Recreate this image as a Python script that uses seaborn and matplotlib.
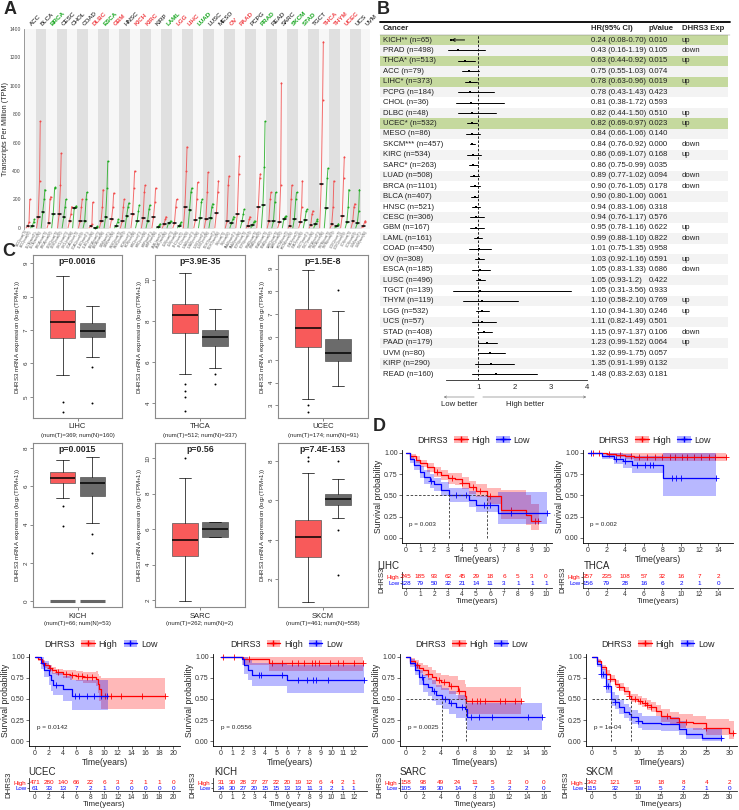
import numpy as np
import matplotlib
matplotlib.use("Agg")
import matplotlib.pyplot as plt
from matplotlib.patches import Rectangle, Patch
from matplotlib.lines import Line2D
import seaborn as sns

# --- Setup Plot Style ---
sns.set_style("white")
plt.rcParams['font.family'] = ['Liberation Sans', 'DejaVu Sans']
plt.rcParams['mathtext.default'] = 'regular'
plt.rcParams['axes.linewidth'] = 0.6

W, H = 739, 810
RED, BLUE = '#ff0000', '#0000ff'

# ---------------- Panel A data (TPM per cancer, tumour / normal) ----------------
A_CANCERS = ["ACC", "BLCA", "BRCA", "CESC", "CHOL", "COAD", "DLBC", "ESCA", "GBM", "HNSC", "KICH",
             "KIRC", "KIRP", "LAML", "LGG", "LIHC", "LUAD", "LUSC", "MESO", "OV", "PAAD", "PCPG",
             "PRAD", "READ", "SARC", "SKCM", "STAD", "TGCT", "THCA", "THYM", "UCEC", "UCS", "UVM"]
A_STATE = ["ns", "ns", "down", "ns", "ns", "ns", "up", "down", "up", "ns", "up",
           "up", "ns", "down", "up", "up", "down", "ns", "ns", "up", "up", "ns",
           "down", "ns", "ns", "down", "down", "ns", "up", "up", "up", "ns", "ns"]
A_T_MED = [12, 75, 35, 95, 50, 50, 10, 50, 60, 45, 95, 70, 75, 30, 35, 150, 55, 65, 105, 45, 100, 15,
           145, 45, 40, 15, 40, 20, 310, 25, 85, 45, 10]
A_T_UP = [40, 330, 200, 300, 100, 150, 30, 150, 150, 150, 280, 250, 180, 60, 150, 400, 200, 250, 250, 300,
          380, 60, 350, 200, 300, 200, 150, 100, 900, 150, 350, 150, 40]
A_T_MAX = [200, 750, 220, 525, 150, 200, 180, 270, 245, 200, 400, 300, 280, 80, 200, 570, 320, 390, 330,
           365, 505, 80, 380, 250, 1020, 300, 330, 120, 1310, 330, 500, 170, 50]
A_N_MED = [15, 110, 100, 75, 140, 50, 2, 80, 15, 85, 45, 50, 5, 35, 15, 125, 70, 70, np.nan, 35, 45, 20,
           160, 45, 65, 65, 55, 30, 140, 10, 40, 35, np.nan]
A_N_UP = [40, 200, 280, 150, 150, 200, 5, 280, 40, 150, 120, 130, 20, 40, 30, 250, 180, 150, np.nan, 60,
          100, 40, 430, 180, 80, 200, 120, 50, 350, 20, 150, 120, np.nan]
A_N_MAX = [60, 270, 285, 200, 155, 250, 10, 470, 60, 175, 160, 160, 30, 50, 40, 280, 200, 170, np.nan, 80,
           130, 50, 750, 250, 85, 250, 130, 60, 420, 30, 270, 270, np.nan]

# ---------------- Panel B data (Cox regression) ----------------
B_CANCERS = ["KICH", "PRAD", "THCA", "ACC", "LIHC", "PCPG", "CHOL", "DLBC", "UCEC", "MESO", "SKCM",
             "KIRC", "SARC", "LUAD", "BRCA", "BLCA", "HNSC", "CESC", "GBM", "LAML", "COAD", "OV",
             "ESCA", "LUSC", "TGCT", "THYM", "LGG", "UCS", "STAD", "PAAD", "UVM", "KIRP", "READ"]
B_STARS = ["**", "", "*", "", "*", "", "", "", "*", "", "***", "", "*", "", "", "", "", "", "", "", "",
           "", "", "", "", "", "", "", "", "", "", "", ""]
B_N = [65, 498, 513, 79, 373, 184, 36, 48, 532, 86, 457, 534, 263, 508, 1101, 407, 521, 306, 167, 161,
       450, 308, 185, 496, 139, 119, 532, 57, 408, 179, 80, 290, 160]
B_HR = ["0.24", "0.43", "0.63", "0.75", "0.78", "0.78", "0.81", "0.82", "0.82", "0.84", "0.84", "0.86",
        "0.86", "0.89", "0.90", "0.90", "0.94", "0.94", "0.95", "0.99", "1.01", "1.03", "1.05", "1.05",
        "1.05", "1.10", "1.10", "1.11", "1.15", "1.23", "1.32", "1.35", "1.48"]
B_LO = ["0.08", "0.16", "0.44", "0.55", "0.63", "0.43", "0.38", "0.44", "0.69", "0.66", "0.76", "0.69",
        "0.75", "0.77", "0.76", "0.80", "0.83", "0.76", "0.78", "0.88", "0.75", "0.92", "0.83", "0.93",
        "0.31", "0.58", "0.94", "0.82", "0.97", "0.99", "0.99", "0.91", "0.83"]
B_HI = ["0.70", "1.19", "0.92", "1.03", "0.96", "1.43", "1.72", "1.50", "0.97", "1.06", "0.92", "1.07",
        "0.99", "1.02", "1.05", "1.00", "1.06", "1.17", "1.16", "1.10", "1.35", "1.16", "1.33", "1.2",
        "3.56", "2.10", "1.30", "1.49", "1.37", "1.52", "1.75", "1.99", "2.63"]
B_P = ["0.010", "0.105", "0.015", "0.074", "0.019", "0.423", "0.593", "0.510", "0.023", "0.140", "0.000",
       "0.168", "0.035", "0.094", "0.178", "0.061", "0.318", "0.576", "0.622", "0.822", "0.958", "0.591",
       "0.686", "0.422", "0.933", "0.769", "0.246", "0.501", "0.106", "0.064", "0.057", "0.132", "0.181"]
B_EXP = ["up", "down", "up", "", "up", "", "", "up", "up", "", "down", "up", "", "down", "down", "", "",
         "", "up", "down", "", "up", "down", "", "", "up", "up", "", "down", "up", "", "", ""]

# ---------------- Panel C data (box summaries, log2(TPM+1)) ----------------
C_NAMES = ["LIHC", "THCA", "UCEC", "KICH", "SARC", "SKCM"]
C_PVALS = ["p=0.0016", "p=3.9E-35", "p=1.5E-8", "p=0.0015", "p=0.56", "p=7.4E-153"]
C_NUM_T = [369, 512, 174, 66, 262, 461]
C_NUM_N = [160, 337, 91, 53, 2, 558]
# whisker low, q1, median, q3, whisker high
C_TUMOR = [[5.65, 6.75, 7.25, 7.6, 8.6], [5.42, 7.4, 8.27, 8.8, 10.34], [3.3, 5.57, 6.38, 7.22, 8.96],
           [5.4, 6.16, 6.45, 6.77, 7.38], [1.96, 4.51, 5.39, 6.35, 8.9], [0.83, 3.15, 4.17, 5.0, 7.42]]
C_NORMAL = [[6.2, 6.8, 6.97, 7.22, 7.72], [5.7, 6.76, 7.2, 7.55, 8.56], [3.85, 4.93, 5.28, 5.91, 7.16],
            [4.1, 5.5, 6.16, 6.5, 7.52], [5.55, 5.55, 6.02, 6.4, 6.4], [5.13, 5.78, 6.07, 6.32, 7.07]]
C_TUMOR_OUT = [[4.85, 4.55], [4.9, 4.6, 4.3, 3.6], [3.0, 2.7], [4.95, 3.95], [10.0], [8.0, 8.2]]
C_NORMAL_OUT = [[4.82, 5.9], [5.4, 4.9], [8.05], [3.5, 2.5], [], [4.5, 2.2, 8.0]]
C_ZERO_BAR = ["KICH"]
C_YTICKS = [[5, 6, 7, 8, 9], [4, 6, 8, 10], [3, 4, 5, 6, 7, 8, 9], [0, 2, 4, 6, 8], [2, 4, 6, 8, 10], [2, 4, 6, 8]]

# ---------------- Panel D data (Kaplan-Meier) ----------------
lihc_high_t = [0, 0.3, 0.7, 1.0, 1.5, 2.0, 2.5, 3.0, 3.5, 4.0, 4.5, 5.0, 5.8, 6.8, 8.6, 8.9, 9.5]
lihc_high_s = [1.0, 0.96, 0.92, 0.88, 0.83, 0.78, 0.74, 0.71, 0.69, 0.65, 0.60, 0.55, 0.49, 0.33, 0.27, 0.20, 0.20]
lihc_high_lo = [1.0, 0.93, 0.88, 0.84, 0.78, 0.72, 0.68, 0.64, 0.62, 0.58, 0.52, 0.48, 0.40, 0.22, 0.15, 0.09, 0.09]
lihc_high_up = [1.0, 0.99, 0.96, 0.92, 0.88, 0.83, 0.80, 0.77, 0.76, 0.72, 0.67, 0.63, 0.59, 0.57, 0.50, 0.40, 0.40]
lihc_high_cens = [2.2, 3.3, 4.0, 4.8, 5.3, 6.0, 7.5, 9.2, 9.4]
lihc_low_t = [0, 0.3, 0.6, 1.0, 1.3, 1.7, 2.0, 2.5, 3.1, 4.5, 5.0, 6.6, 10.1]
lihc_low_s = [1.0, 0.93, 0.86, 0.78, 0.72, 0.67, 0.63, 0.57, 0.50, 0.45, 0.39, 0.29, 0.29]
lihc_low_lo = [1.0, 0.88, 0.80, 0.71, 0.64, 0.59, 0.55, 0.49, 0.42, 0.37, 0.30, 0.16, 0.16]
lihc_low_up = [1.0, 0.97, 0.92, 0.85, 0.80, 0.75, 0.71, 0.66, 0.59, 0.55, 0.49, 0.54, 0.54]
lihc_low_cens = [1.8, 3.6, 4.3, 5.6, 6.0, 7.5, 10.1]

thca_high_t = [0, 1, 2, 3, 4, 5, 14.8]
thca_high_s = [1.0, 1.0, 0.99, 0.98, 0.97, 0.95, 0.95]
thca_high_lo = [1.0, 0.99, 0.97, 0.95, 0.93, 0.90, 0.90]
thca_high_up = [1.0, 1.0, 1.0, 1.0, 1.0, 1.0, 1.0]
thca_high_cens = [0.5, 1.2, 2.3, 3.4, 4.6, 5.5, 6.4, 7.2, 8.0, 8.8, 9.4, 10.1, 10.6, 11.4, 12.2, 13.0, 13.7, 14.8]
thca_low_t = [0, 1.5, 2.8, 3.8, 4.7, 8.1, 13.8]
thca_low_s = [1.0, 0.97, 0.93, 0.90, 0.86, 0.71, 0.71]
thca_low_lo = [1.0, 0.93, 0.87, 0.82, 0.76, 0.49, 0.49]
thca_low_up = [1.0, 1.0, 1.0, 0.99, 0.97, 1.0, 1.0]
thca_low_cens = [0.3, 3.0, 4.0, 5.3, 6.1, 6.7, 7.0, 9.0, 9.5, 10.0, 13.8]

ucec_high_t = [0, 0.5, 1.0, 1.5, 2.0, 2.5, 3.0, 4.0, 5.0, 6.0, 7.0, 8.8, 9.1, 9.3, 9.5, 18.8]
ucec_high_s = [1.0, 0.97, 0.93, 0.90, 0.87, 0.84, 0.82, 0.80, 0.79, 0.77, 0.76, 0.74, 0.68, 0.62, 0.54, 0.54]
ucec_high_lo = [1.0, 0.95, 0.91, 0.87, 0.83, 0.80, 0.78, 0.75, 0.73, 0.71, 0.69, 0.65, 0.57, 0.48, 0.38, 0.38]
ucec_high_up = [1.0, 0.99, 0.96, 0.93, 0.91, 0.88, 0.86, 0.84, 0.84, 0.83, 0.82, 0.83, 0.80, 0.77, 0.75, 0.75]
ucec_high_cens = [1.2, 2.2, 3.3, 4.5, 5.3, 6.2, 6.8, 7.5, 8.2, 10.2, 11.0, 12.5, 15.5, 18.8]
ucec_low_t = [0, 0.8, 1.3, 2.0, 2.3, 2.6, 4.0, 5.4, 10.5]
ucec_low_s = [1.0, 0.93, 0.85, 0.78, 0.72, 0.67, 0.62, 0.54, 0.54]
ucec_low_lo = [1.0, 0.86, 0.76, 0.67, 0.60, 0.55, 0.48, 0.37, 0.37]
ucec_low_up = [1.0, 1.0, 0.95, 0.90, 0.86, 0.81, 0.77, 0.72, 0.72]
ucec_low_cens = [3.0, 5.8, 6.4, 7.5, 8.5, 9.5, 10.4]

kich_high_t = [0, 2.0, 4.3, 12.8]
kich_high_s = [1.0, 0.97, 0.93, 0.93]
kich_high_lo = [1.0, 0.91, 0.83, 0.83]
kich_high_up = [1.0, 1.0, 1.0, 1.0]
kich_high_cens = [0.2, 1.2, 2.5, 4.6, 5.5, 6.4, 7.0, 7.5, 8.2, 8.5, 8.9, 9.9, 10.6, 11.0, 12.0, 12.8]
kich_low_t = [0, 1.9, 2.1, 2.4, 2.8, 6.0, 12.9]
kich_low_s = [1.0, 0.97, 0.90, 0.85, 0.79, 0.73, 0.73]
kich_low_lo = [1.0, 0.91, 0.80, 0.73, 0.65, 0.57, 0.57]
kich_low_up = [1.0, 1.0, 1.0, 0.97, 0.93, 0.90, 0.90]
kich_low_cens = [3.4, 3.6, 5.5, 7.0, 7.8, 8.3, 8.6, 9.7, 12.9]

sarc_high_t = [0, 0.5, 1.0, 1.5, 2.0, 2.5, 3.0, 3.5, 4.0, 5.0, 6.0, 6.8, 7.0, 13.3]
sarc_high_s = [1.0, 0.95, 0.91, 0.87, 0.84, 0.80, 0.76, 0.72, 0.70, 0.66, 0.60, 0.53, 0.48, 0.48]
sarc_high_lo = [1.0, 0.91, 0.86, 0.81, 0.77, 0.73, 0.68, 0.64, 0.61, 0.56, 0.49, 0.41, 0.32, 0.32]
sarc_high_up = [1.0, 0.99, 0.96, 0.93, 0.91, 0.88, 0.85, 0.81, 0.79, 0.77, 0.72, 0.68, 0.64, 0.64]
sarc_high_cens = [1.3, 2.6, 3.8, 4.4, 5.2, 6.2, 7.6, 8.2, 8.6, 9.2, 10.9, 11.5, 12.6, 13.3]
sarc_low_t = [0, 0.5, 1.0, 1.5, 2.0, 2.5, 3.0, 3.5, 4.2, 5.0, 5.8, 6.8, 7.1, 15.8]
sarc_low_s = [1.0, 0.93, 0.85, 0.76, 0.68, 0.64, 0.60, 0.55, 0.50, 0.45, 0.40, 0.38, 0.28, 0.28]
sarc_low_lo = [1.0, 0.88, 0.78, 0.67, 0.58, 0.53, 0.48, 0.43, 0.38, 0.32, 0.27, 0.24, 0.13, 0.13]
sarc_low_up = [1.0, 0.98, 0.92, 0.85, 0.78, 0.75, 0.72, 0.67, 0.63, 0.59, 0.55, 0.53, 0.45, 0.45]
sarc_low_cens = [1.8, 3.3, 4.5, 5.2, 6.5, 7.5, 8.5, 10.0, 14.2, 15.8]

skcm_high_t = [0, 1, 2, 3, 4, 5, 6, 7, 8, 8.6, 10, 11, 12, 13, 14, 15, 17, 19, 22, 25, 30, 31]
skcm_high_s = [1.0, 0.95, 0.88, 0.80, 0.74, 0.68, 0.64, 0.59, 0.54, 0.50, 0.48, 0.45, 0.43, 0.40, 0.36,
               0.30, 0.27, 0.23, 0.21, 0.15, 0.10, 0.10]
skcm_high_lo = [1.0, 0.93, 0.85, 0.77, 0.70, 0.64, 0.60, 0.55, 0.50, 0.46, 0.43, 0.40, 0.37, 0.34, 0.30,
                0.23, 0.20, 0.16, 0.13, 0.07, 0.03, 0.03]
skcm_high_up = [1.0, 0.97, 0.91, 0.84, 0.78, 0.72, 0.69, 0.64, 0.59, 0.56, 0.54, 0.51, 0.49, 0.46, 0.43,
                0.38, 0.35, 0.32, 0.30, 0.26, 0.24, 0.24]
skcm_high_cens = [4.0, 6.0, 8.0, 9.5, 10.5, 11.5, 12.0, 13.0, 16.5, 19.0, 20.5, 25.0, 30.8]
skcm_low_t = [0, 1, 2, 3, 4.2, 5, 6, 7, 8, 8.5, 10, 11, 15, 19, 20.5, 24, 28.5]
skcm_low_s = [1.0, 0.92, 0.80, 0.65, 0.50, 0.46, 0.40, 0.35, 0.32, 0.28, 0.24, 0.21, 0.20, 0.14, 0.08, 0.04, 0.04]
skcm_low_lo = [1.0, 0.88, 0.74, 0.57, 0.42, 0.38, 0.32, 0.27, 0.24, 0.20, 0.16, 0.13, 0.12, 0.07, 0.02, 0.0, 0.0]
skcm_low_up = [1.0, 0.96, 0.86, 0.73, 0.58, 0.55, 0.49, 0.44, 0.41, 0.37, 0.33, 0.30, 0.29, 0.24, 0.16, 0.14, 0.14]
skcm_low_cens = [2.0, 2.5, 3.0, 3.5, 5.0, 10.0, 28.3]

D_NAMES = ["LIHC", "THCA", "UCEC", "KICH", "SARC", "SKCM"]
D_PTEXT = ["p = 0.003", "p = 0.002", "p = 0.0142", "p = 0.0556", "p = 0.0025", "p = 1e-04"]
D_TICK_STEP = [1, 2, 2, 1, 2, 5]
D_RISK_HIGH = [[245, 185, 93, 62, 45, 29, 18, 6, 5, 3, 0],
               [357, 235, 108, 57, 32, 16, 7, 2],
               [471, 280, 140, 66, 22, 6, 3, 2, 1, 1, 0],
               [31, 30, 28, 27, 27, 22, 20, 19, 12, 6, 4, 2, 1],
               [158, 98, 49, 24, 11, 5, 3, 0, 0],
               [342, 121, 59, 18, 8, 4, 2]]
D_RISK_LOW = [[128, 79, 50, 32, 21, 14, 11, 3, 1, 1, 1],
              [156, 79, 28, 16, 6, 2, 1, 0],
              [61, 33, 13, 7, 2, 1, 0, 0, 0, 0, 0],
              [34, 30, 27, 20, 15, 15, 13, 13, 11, 3, 2, 1, 1],
              [105, 58, 30, 14, 7, 5, 2, 2, 0],
              [115, 32, 10, 5, 2, 1, 0]]
D_CURVES = [
    [(lihc_high_t, lihc_high_s, lihc_high_lo, lihc_high_up, lihc_high_cens),
     (lihc_low_t, lihc_low_s, lihc_low_lo, lihc_low_up, lihc_low_cens)],
    [(thca_high_t, thca_high_s, thca_high_lo, thca_high_up, thca_high_cens),
     (thca_low_t, thca_low_s, thca_low_lo, thca_low_up, thca_low_cens)],
    [(ucec_high_t, ucec_high_s, ucec_high_lo, ucec_high_up, ucec_high_cens),
     (ucec_low_t, ucec_low_s, ucec_low_lo, ucec_low_up, ucec_low_cens)],
    [(kich_high_t, kich_high_s, kich_high_lo, kich_high_up, kich_high_cens),
     (kich_low_t, kich_low_s, kich_low_lo, kich_low_up, kich_low_cens)],
    [(sarc_high_t, sarc_high_s, sarc_high_lo, sarc_high_up, sarc_high_cens),
     (sarc_low_t, sarc_low_s, sarc_low_lo, sarc_low_up, sarc_low_cens)],
    [(skcm_high_t, skcm_high_s, skcm_high_lo, skcm_high_up, skcm_high_cens),
     (skcm_low_t, skcm_low_s, skcm_low_lo, skcm_low_up, skcm_low_cens)],
]

# --- Figure and helpers ---
fig = plt.figure(figsize=(W / 100, H / 100), dpi=100)


def add_ax(x0, y0, x1, y1):
    """Axes placed by pixel box (top-left origin)."""
    return fig.add_axes([x0 / W, 1 - y1 / H, (x1 - x0) / W, (y1 - y0) / H])


def panel_label(x, y, s):
    fig.text(x / W, 1 - y / H, s, fontsize=13, fontweight='bold', va='top', ha='left')


panel_label(4, 1, "A")
panel_label(377, 1, "B")
panel_label(2, 243, "C")
panel_label(373, 418, "D")

# ================= Panel A =================
axA = add_ax(24, 29, 370, 229)
state_col = {"up": '#f0454a', "down": '#16a51e', "ns": 'black'}
nA = len(A_CANCERS)
for i in range(nA):
    axA.axvspan(i - 0.5, i + 0.5, color='#e0e0e0' if i % 2 else '#f7f7f7', lw=0, zorder=0)


def draw_group(x, med, up, mx, color):
    if np.isnan(med):
        return
    xs = [x - 0.18, x - 0.03, x + 0.1, x + 0.17]
    ys = [0, med, up, mx]
    axA.plot(xs, ys, color=color, lw=0.7, alpha=0.8, zorder=2)
    sns.scatterplot(x=xs[1:], y=ys[1:], ax=axA, color=color, s=2, linewidth=0, zorder=3, legend=False)
    axA.plot([x - 0.13, x + 0.13], [med, med], color='black', lw=1.1, zorder=4)


for i, c in enumerate(A_CANCERS):
    draw_group(i - 0.22, A_T_MED[i], A_T_UP[i], A_T_MAX[i], '#f24a4a')
    draw_group(i + 0.22, A_N_MED[i], A_N_UP[i], A_N_MAX[i], '#1daa1d')
    axA.text(i - 0.1, 1.01, c, transform=axA.get_xaxis_transform(), rotation=45, ha='left', va='bottom',
             fontsize=4.5, color=state_col[A_STATE[i]], fontweight='bold' if A_STATE[i] != "ns" else 'normal')

axA.set_xlim(-0.6, 32.4)
axA.set_ylim(-8, 1400)
axA.set_yticks(range(0, 1401, 200))
axA.tick_params(axis='y', labelsize=3.6, length=1.5, pad=0.8, colors='#444')
xt = [i + d for i in range(nA) for d in (-0.22, 0.22)]
xl = [f"{c}(num(T))" if d < 0 else f"{c}(num(N))" for c in A_CANCERS for d in (-1, 1)]
axA.set_xticks(xt)
axA.set_xticklabels(xl, rotation=60, ha='right', fontsize=2.2, color='#555')
axA.tick_params(axis='x', length=0, pad=0.5)
axA.set_ylabel("Transcripts Per Million (TPM)", fontsize=5.2, labelpad=0.5)
for s in ['top', 'right', 'bottom']:
    axA.spines[s].set_visible(False)
axA.spines['left'].set_color('#888')

# ================= Panel B =================
axBt = add_ax(370, 0, 739, 410)
axBt.set_xlim(370, 739)
axBt.set_ylim(410, 0)
axBt.axis('off')
ROW0, ROWH = 40.0, 10.44
nB = len(B_CANCERS)
for r in range(nB):
    y = ROW0 + r * ROWH
    hl = float(B_P[r]) < 0.05 and B_EXP[r] == "up"
    fc = '#c5d99e' if hl else ('#f3f3f3' if r % 2 else 'white')
    axBt.add_patch(Rectangle((380, y - ROWH / 2), 348, ROWH, fc=fc, lw=0, zorder=0))
    kw = dict(fontsize=5.6, va='center', ha='left', color='#222')
    axBt.text(383, y, f"{B_CANCERS[r]}{B_STARS[r]} (n={B_N[r]})", **kw)
    axBt.text(591, y, f"{B_HR[r]} ({B_LO[r]}-{B_HI[r]})", **kw)
    axBt.text(649, y, B_P[r], **kw)
    axBt.text(682, y, B_EXP[r], **kw)
axBt.plot([380, 730], [22, 22], color='black', lw=1.3)
axBt.plot([380, 730], [34.6, 34.6], color='#777', lw=0.3)
for x, s in [(383, "Cancer"), (591, "HR(95% CI)"), (649, "pValue"), (682, "DHRS3 Exp")]:
    axBt.text(x, 28.5, s, fontsize=5.6, fontweight='bold', va='center', ha='left')
arrow_kw = dict(arrowstyle='->', lw=0.4, color='#666', mutation_scale=4)
axBt.annotate('', xy=(441, 397), xytext=(477, 397), arrowprops=arrow_kw)
axBt.annotate('', xy=(589, 397), xytext=(480, 397), arrowprops=arrow_kw)
axBt.text(459, 404, "Low better", fontsize=5.6, ha='center', va='center', color='#222')
axBt.text(525, 404, "High better", fontsize=5.6, ha='center', va='center', color='#222')

axBf = add_ax(445.6, 22, 587, 380)
axBf.patch.set_alpha(0)
rows = np.arange(nB)
hr = np.array([float(v) for v in B_HR])
lo = np.array([float(v) for v in B_LO])
hi = np.array([float(v) for v in B_HI])
XMIN = 0.1
for r in rows:
    if lo[r] < XMIN:
        axBf.annotate('', xy=(XMIN + 0.08, r), xytext=(hi[r], r),
                      arrowprops=dict(arrowstyle='->', lw=0.7, color='black', mutation_scale=5))
    else:
        axBf.plot([lo[r], hi[r]], [r, r], color='black', lw=0.7)
sns.scatterplot(x=hr, y=rows, ax=axBf, marker='s', s=3, color='black', linewidth=0, legend=False, zorder=3)
axBf.axvline(1, ymax=0.963, color='black', ls=(0, (3, 2)), lw=0.6)
axBf.set_xlim(XMIN, 4)
axBf.set_ylim(32.57, -1.72)
axBf.set_xticks([1, 2, 3, 4])
axBf.set_yticks([])
axBf.tick_params(axis='x', labelsize=5.6, length=2, pad=1, width=0.5)
for s in ['top', 'right', 'left']:
    axBf.spines[s].set_visible(False)
axBf.spines['bottom'].set_linewidth(0.6)

# ================= Panel C =================
C_BOX_X = [(33, 122), (155, 245), (278, 368)]
C_BOX_Y = [(255, 418), (443, 607)]
C_YLIM = [(4.37, 9.24), (3.27, 11.2), (2.45, 9.6), (-0.3, 8.26), (1.62, 10.85), (0.59, 8.92)]
for k, name in enumerate(C_NAMES):
    x0, x1 = C_BOX_X[k % 3]
    y0, y1 = C_BOX_Y[k // 3]
    ax = add_ax(x0, y0, x1, y1)
    stats = []
    for vals in (C_TUMOR[k], C_NORMAL[k]):
        wl, q1, med, q3, wh = vals
        stats.append(dict(whislo=wl, q1=q1, med=med, q3=q3, whishi=wh, fliers=[]))
    bp = ax.bxp(stats, positions=[1, 2], widths=0.86, patch_artist=True, showfliers=False,
                boxprops=dict(lw=0.5, edgecolor='#555'),
                medianprops=dict(color='black', lw=1.1),
                whiskerprops=dict(color='black', lw=0.5),
                capprops=dict(color='black', lw=0.5))
    bp['boxes'][0].set_facecolor('#f85a5a')
    bp['boxes'][1].set_facecolor('#6b6b6b')
    for pos, pts in ((1, C_TUMOR_OUT[k]), (2, C_NORMAL_OUT[k])):
        if pts:
            sns.scatterplot(x=[pos] * len(pts), y=pts, ax=ax, s=2, color='black', linewidth=0, legend=False)
    if name in C_ZERO_BAR:
        ax.hlines([0, 0], [0.57, 1.57], [1.43, 2.43], color='#666', lw=2.2)
    ax.set_xlim(0, 3)
    ax.set_ylim(*C_YLIM[k])
    ax.set_yticks(C_YTICKS[k])
    ax.set_yticklabels([str(v) for v in C_YTICKS[k]], rotation=90, va='center')
    ax.tick_params(axis='y', labelsize=4.5, length=2, pad=1, width=0.4, left=True, colors='#333')
    ax.set_xticks([1.5])
    ax.set_xticklabels([])
    ax.tick_params(axis='x', length=2, width=0.4, bottom=True)
    for s in ax.spines.values():
        s.set_color('#8a8a8a')
        s.set_linewidth(0.8)
    ax.set_ylabel("DHRS3 mRNA expression (log$_2$(TPM+1))", fontsize=4.4, labelpad=1.5)
    ph = y1 - y0
    ax.text(0.5, 1 - 7 / ph, C_PVALS[k], transform=ax.transAxes, ha='center', va='center',
            fontsize=6.3, fontweight='bold')
    ax.text(0.5, -9 / ph, name, transform=ax.transAxes, ha='center', va='center', fontsize=5.5)
    ax.text(0.5, -17 / ph, f"(num(T)={C_NUM_T[k]}; num(N)={C_NUM_N[k]})", transform=ax.transAxes,
            ha='center', va='center', fontsize=4.3)

# ================= Panel D =================
D_BOX = [(402, 450, 552, 543), (583, 450, 733, 543), (29, 654, 180, 746),
         (213, 654, 367, 746), (400, 654, 550, 746), (586, 654, 737, 746)]
D_XLIM = [(-0.29, 10.43), (-0.54, 15.6), (-0.87, 21.0), (-0.72, 13.2), (-0.7, 16.7), (-1.3, 31.7)]
D_TABLE_Y = [(572, 588), (778, 791)]
D_TITLE_X = [377, 584, 28, 214, 400, 586]
COLS = [RED, BLUE]

for k, name in enumerate(D_NAMES):
    x0, y0, x1, y1 = D_BOX[k]
    ax = add_ax(x0, y0, x1, y1)
    medians = []
    for (t, s, lo_, up_, cens), col in zip(D_CURVES[k], COLS):
        t = np.array(t)
        s = np.array(s)
        ax.fill_between(t, lo_, up_, step='post', color=col, alpha=0.28, lw=0)
        sns.lineplot(x=t, y=s, ax=ax, color=col, lw=0.9, drawstyle='steps-post',
                     estimator=None, sort=False, legend=False)
        idx = np.searchsorted(t, cens, side='right') - 1
        sns.scatterplot(x=cens, y=s[idx], ax=ax, marker='+', s=14, color=col, linewidth=0.6, legend=False)
        below = np.where(s <= 0.5)[0]
        medians.append(t[below[0]] if len(below) else None)
    if all(m is not None for m in medians):
        ax.plot([0, max(medians)], [0.5, 0.5], color='#333', ls=(0, (3, 2)), lw=0.6)
        for m in medians:
            ax.plot([m, m], [0, 0.5], color='#333', ls=(0, (3, 2)), lw=0.6)
    xmax = D_TICK_STEP[k] * (len(D_RISK_HIGH[k]) - 1)
    ticks = np.arange(0, xmax + 0.1, D_TICK_STEP[k])
    ax.set_xlim(*D_XLIM[k])
    ax.set_ylim(-0.059, 1.035)
    ax.set_xticks(ticks)
    ax.set_yticks([0, 0.25, 0.5, 0.75, 1.0])
    ax.set_yticklabels(["0.00", "0.25", "0.50", "0.75", "1.00"])
    ax.tick_params(labelsize=5, length=2, width=0.5, pad=1, colors='#333', left=True, bottom=True)
    ax.set_xlabel("Time(years)", fontsize=6.2, labelpad=0.5)
    ax.set_ylabel("Survival probability", fontsize=6.2, labelpad=1)
    for sp in ['top', 'right']:
        ax.spines[sp].set_visible(False)
    for sp in ['left', 'bottom']:
        ax.spines[sp].set_color('black')
    ax.text(0.05, 0.2, D_PTEXT[k], transform=ax.transAxes, fontsize=4.6, ha='left', va='center')
    handles = [Line2D([], [], color='none'),
               (Patch(fc=RED, alpha=0.3, lw=0), Line2D([], [], color=RED, marker='+', lw=1, ms=4)),
               (Patch(fc=BLUE, alpha=0.3, lw=0), Line2D([], [], color=BLUE, marker='+', lw=1, ms=4))]
    ax.legend(handles, ["DHRS3", "High", "Low"], ncol=3, loc='lower center', bbox_to_anchor=(0.42, 1.0),
              frameon=False, fontsize=6.5, handlelength=1.5, handletextpad=0.4, columnspacing=0.7,
              borderaxespad=0.2)

    # risk table
    row = 0 if k < 2 else 1
    ty0, ty1 = D_TABLE_Y[row]
    axt = add_ax(x0, ty0, x1, ty1)
    for j, tt in enumerate(ticks):
        axt.text(tt, 1, str(D_RISK_HIGH[k][j]), color=RED, fontsize=4.6, ha='center', va='center')
        axt.text(tt, 0, str(D_RISK_LOW[k][j]), color=BLUE, fontsize=4.6, ha='center', va='center')
    axt.set_xlim(*D_XLIM[k])
    axt.set_ylim((-0.83, 1.83) if row == 0 else (-0.6, 2.0))
    axt.set_xticks(ticks)
    axt.set_yticks([1, 0])
    axt.set_yticklabels(["High", "Low"], fontsize=4.4)
    for lab, col in zip(axt.get_yticklabels(), COLS):
        lab.set_color(col)
    axt.tick_params(axis='x', labelsize=4.8, length=1.5, width=0.5, pad=0.8, colors='#333', bottom=True)
    axt.tick_params(axis='y', length=1.5, width=0.5, pad=0.5, left=True)
    axt.set_xlabel("Time(years)", fontsize=5.8, labelpad=0)
    for sp in ['top', 'right']:
        axt.spines[sp].set_visible(False)
    axt.set_ylabel("DHRS3", fontsize=5.6, labelpad=1)
    fig.text(D_TITLE_X[k] / W, 1 - (ty0 - 6) / H, name, fontsize=7, ha='left', va='center')

fig.savefig("out.png", dpi=100)
